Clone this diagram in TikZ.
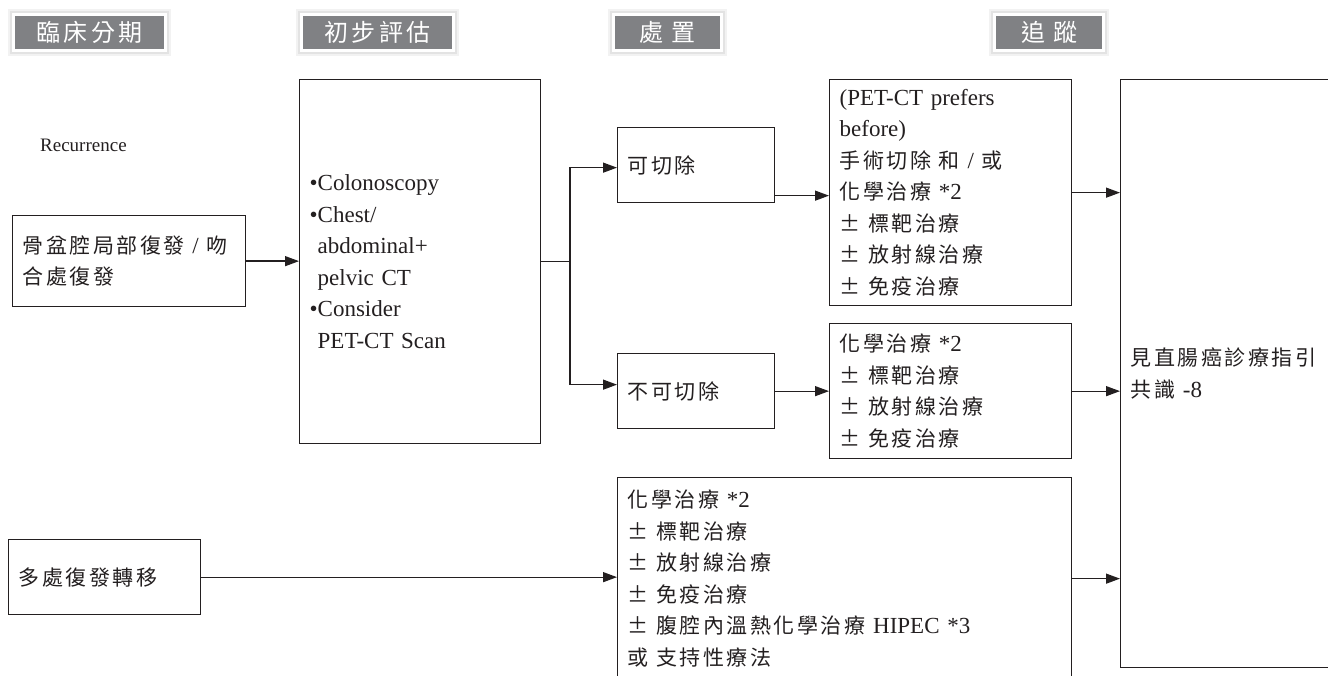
\documentclass[tikz,border=0pt]{standalone}
\usepackage{fontspec}
\setmainfont{Liberation Serif}
\newfontfamily\cjkfont[LetterSpace=12]{Noto Sans CJK TC}
\newfontfamily\hdfont[LetterSpace=14]{Noto Sans CJK TC}
\usetikzlibrary{arrows.meta}
\newcommand\zhtxt[1]{{\fontsize{21}{31.5}\cjkfont #1}}
\definecolor{ink}{HTML}{231F20}
\definecolor{hdgray}{HTML}{808184}
\begin{document}
\begin{tikzpicture}[x=1pt,y=-1pt,
 box/.style={draw=ink, line width=1.3pt, anchor=north west, inner xsep=10pt, inner ysep=0pt, align=left, font=\fontsize{23}{31.5}\selectfont, text=ink},
 hd/.style={fill=hdgray, draw=white, line width=3pt, minimum height=36pt, inner sep=0pt, text=white, font=\fontsize{24}{28}\hdfont,
   preaction={draw=black!5, line width=11pt},
   preaction={draw=black!11, line width=7pt}},
 arr/.style={draw=ink, line width=1.3pt, -{Triangle[length=14pt,width=10pt]}},
 ln/.style={draw=ink, line width=1.3pt}]
\useasboundingbox (0,0) rectangle (1328,676);

% headers
\node[hd, minimum width=152pt] (h1) at (89.5,32.5) {臨床分期};
\node[hd, minimum width=152pt] (h2) at (377.5,32.5) {初步評估};
\node[hd, minimum width=108pt] (h3) at (667.5,32.5) {處\hspace{8pt}置};
\node[hd, minimum width=109pt] (h4) at (1049,32.5) {追\hspace{8pt}蹤};

% recurrence label
\node[anchor=west, font=\fontsize{19}{22}\selectfont, text=ink, inner sep=0pt] (rec) at (40,145) {Recurrence};

% boxes
\node[box, text width=213pt, minimum height=91pt] (A) at (12,215)
  {\zhtxt{骨盆腔局部復發} / \zhtxt{吻}\\\zhtxt{合處復發}};
\node[box, text width=221pt, minimum height=364pt] (B) at (299,79)
  {•Colonoscopy\\•Chest/\\\phantom{•}abdominal+\\\phantom{•}pelvic CT\\•Consider\\\phantom{•}PET-CT Scan};
\node[box, text width=137pt, minimum height=75pt] (K) at (617,127) {\zhtxt{可切除}};
\node[box, text width=137pt, minimum height=75pt] (U) at (617,353) {\zhtxt{不可切除}};
\node[box, text width=222pt, minimum height=226pt] (C) at (829,79)
  {(PET-CT prefers\\before)\\\zhtxt{手術切除 和} / \zhtxt{或}\\\zhtxt{化學治療} *2\\\zhtxt{± 標靶治療}\\\zhtxt{± 放射線治療}\\\zhtxt{± 免疫治療}};
\node[box, text width=222pt, minimum height=135pt] (D) at (829,323)
  {\zhtxt{化學治療} *2\\\zhtxt{± 標靶治療}\\\zhtxt{± 放射線治療}\\\zhtxt{± 免疫治療}};
\node[box, text width=434pt, minimum height=202pt] (E) at (617,477)
  {\zhtxt{化學治療} *2\\\zhtxt{± 標靶治療}\\\zhtxt{± 放射線治療}\\\zhtxt{± 免疫治療}\\\zhtxt{± 腹腔內溫熱化學治療} HIPEC *3\\\zhtxt{或 支持性療法}};
\node[box, text width=172pt, minimum height=75pt] (M) at (8,539) {\zhtxt{多處復發轉移}};
\node[box, text width=210pt, minimum height=588pt] (F) at (1120,79)
  {\zhtxt{見直腸癌診療指引}\\\zhtxt{共識} -8};

% connectors
\coordinate (S) at (570,261);
\draw[arr] (A.east) -- (A.east -| B.west);
\draw[ln] (B.east) -- (B.east -| S);
\draw[arr] (S) |- ([yshift=-2.5pt]K.west);
\draw[arr] (S) |- ([yshift=6.5pt]U.west);
\draw[arr] ([yshift=-30.5pt]K.east) -- ([yshift=-30.5pt]K.east -| C.west);
\draw[arr] (U.east) -- (U.east -| D.west);
\draw[arr] (C.east) -- (C.east -| F.west);
\draw[arr] (D.east) -- (D.east -| F.west);
\draw[arr] (M.east) -- (M.east -| E.west);
\draw[arr] (E.east) -- (E.east -| F.west);
\end{tikzpicture}
\end{document}
